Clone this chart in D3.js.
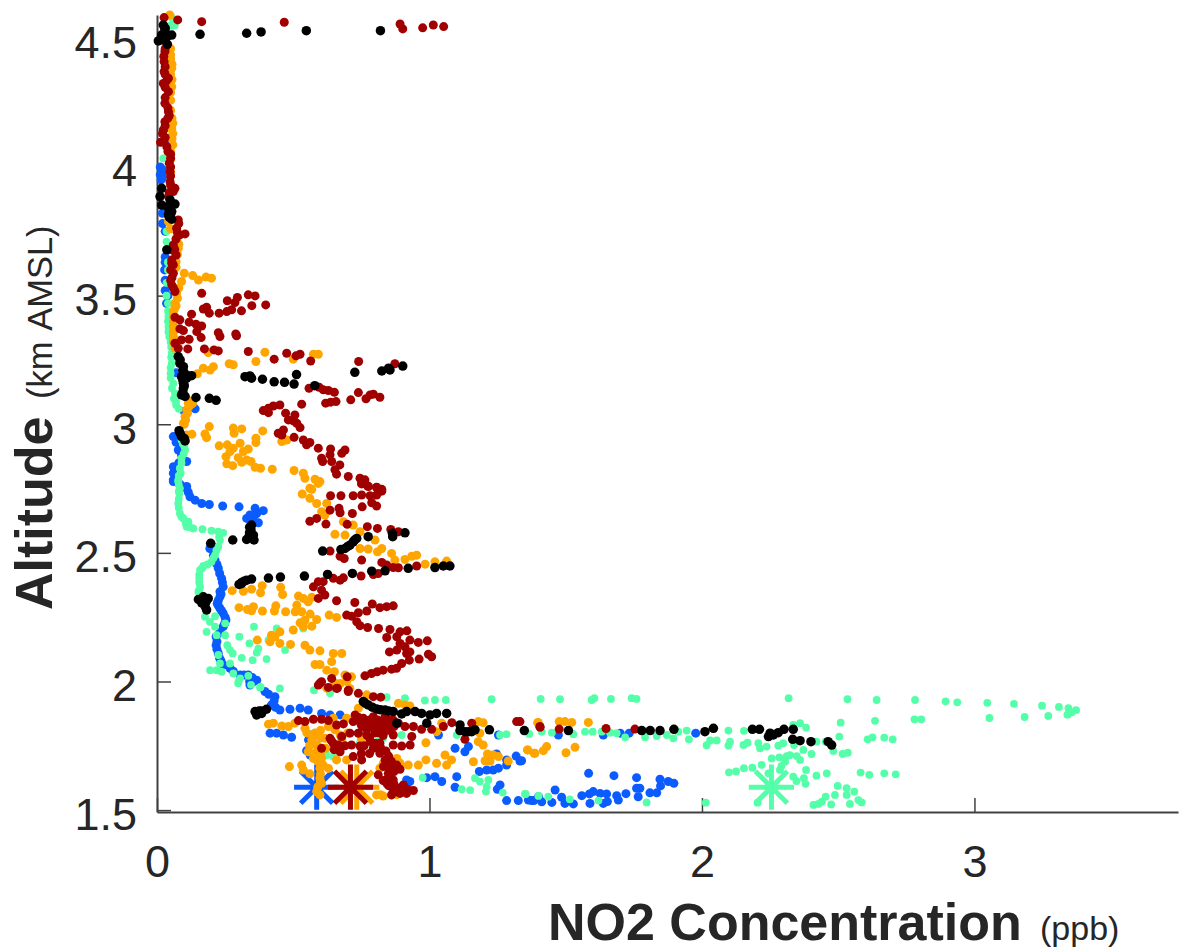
<!DOCTYPE html>
<html>
<head>
<meta charset="utf-8">
<script src="https://cdn.jsdelivr.net/npm/d3@7"></script>
<style>
  html, body { margin: 0; padding: 0; background: #fff; }
  svg { display: block; font-family: "Liberation Sans", Arial, sans-serif; }
</style>
</head>
<body>
<div id="chart"></div>
<script>
// Each profile is a list of [NO2 ppb, altitude km].
const blueProfile = [
  [.04,4.30],[.03,4.15],[.03,4.10],[.012,4.0],[.02,3.99],[.02,3.98],[.012,3.97],[.02,3.96],[.015,3.95],[.02,3.82],[.02,3.78],[.03,3.75],[.03,3.65],[.03,3.63],[.028,3.60],[.03,3.56],[.03,3.52],[.04,3.50],[.035,3.47],[.07,3.20],[.10,3.15],[.13,3.08],[.14,3.06],[.1,3.05],
  [.06,2.952],[.07,2.93],[.078,2.90],[.09,2.88],[.109,2.855],[.08,2.85],[.06,2.835],[.06,2.81],[.06,2.784],[.08,2.77],[.085,2.765],[.09,2.76],[.109,2.758],[.06,2.777],[.109,2.75],[.115,2.735],[.121,2.718],[.14,2.705],[.164,2.692],[.192,2.688],[.241,2.682],[.301,2.679],
  [.329,2.634],[.36,2.673],[.39,2.664],[.366,2.653],[.354,2.64],[.372,2.617],[.347,2.621],[.341,2.647],
  [.194,2.517],[.2,2.53],[.207,2.49],[.213,2.472],[.22,2.455],[.225,2.44],[.23,2.42],[.237,2.401],[.24,2.385],[.243,2.368],[.231,2.349],[.235,2.34],[.231,2.329],[.225,2.315],[.221,2.303],[.225,2.295],[.231,2.284],[.237,2.275],[.243,2.265],[.25,2.25],[.253,2.239],[.248,2.225],[.243,2.213],[.23,2.19],[.217,2.174],[.22,2.155],[.217,2.141],[.22,2.125],[.225,2.109],[.23,2.09],[.235,2.08],[.243,2.064],[.268,2.051],[.28,2.04],[.305,2.025],[.32,2.025],[.335,2.025],[.35,2.015],[.366,2.005],[.341,1.986],
  [.354,2.0],[.34,2.0],[.396,1.961],[.41,1.95],[.433,1.941],[.43,1.925],[.42,1.909],[.435,1.9],[.451,1.889],[.488,1.892],[.525,1.896],[.555,1.889],[.604,1.876],[.635,1.87],[.672,1.87],
  [.415,1.799],[.439,1.799],[.464,1.792],[.494,1.783],[.562,1.792],[.556,1.773],[.549,1.731],[.562,1.714],[.739,1.799],
  [.916,1.617],[.928,1.611],[.99,1.626],[1.02,1.63],[1.045,1.611],[1.10,1.63],[1.094,1.589],[1.094,1.74],[1.143,1.747],[1.13,1.727],[1.183,1.65],[1.21,1.656],[1.234,1.656],[1.253,1.663],[1.283,1.675],[1.246,1.718],[1.283,1.695],[1.318,1.71],[1.338,1.692],[1.259,1.598],[1.249,1.581],[1.283,1.537],[1.326,1.537],[1.375,1.537],[1.4,1.552],
  [1.363,1.539],[1.383,1.537],[1.412,1.532],[1.449,1.53],[1.461,1.578],[1.485,1.55],[1.497,1.526],[1.528,1.524],[1.559,1.556],[1.587,1.563],[1.601,1.572],[1.626,1.565],[1.65,1.563],[1.653,1.533],[1.638,1.526],[1.589,1.526],[1.687,1.556],[1.693,1.539],[1.721,1.564],[1.76,1.585],[1.766,1.552],[1.772,1.585],[1.809,1.567],[1.834,1.567],[1.848,1.594],[1.846,1.62],[1.876,1.611],[1.897,1.604],[1.76,1.626],[1.677,1.634],[1.584,1.643],
  [1.332,1.691],[1.473,1.792],[1.638,1.792],[1.7,1.799],[1.733,1.799],[1.977,1.799],[1.033,1.792],[1.253,1.792]
];
const greenProfile = [
  [.06,4.565],[.065,4.55],[.05,4.55],[.07,4.57],[.055,4.58],[.023,4.034],[.035,3.75],[.035,3.71],[.035,3.68],[.04,3.63],[.04,3.6],[.035,3.55],[.035,3.5],[.04,3.47],
  [.04,3.44],[.042,3.419],[.04,3.40],[.042,3.38],[.042,3.36],[.045,3.34],[.05,3.32],[.052,3.30],[.054,3.276],[.052,3.26],[.054,3.237],[.05,3.22],[.05,3.198],[.05,3.18],[.06,3.159],[.055,3.14],[.066,3.12],[.062,3.10],[.07,3.088],[.07,3.075],[.08,3.06],[.09,2.939],[.095,2.925],[.1,2.915],[.103,2.90],[.098,2.885],[.09,2.868],[.09,2.85],[.084,2.829],[.087,2.81],[.08,2.8],[.078,2.784],[.08,2.765],[.084,2.751],
  [.078,2.777],[.08,2.74],[.082,2.731],[.08,2.71],[.078,2.692],[.08,2.675],[.084,2.653],[.09,2.64],[.097,2.634],[.115,2.621],[.105,2.615],[.109,2.602],[.12,2.60],[.133,2.595],[.167,2.592],[.2,2.586],[.225,2.582],[.243,2.578],[.228,2.56],[.231,2.55],[.225,2.524],[.218,2.51],[.213,2.491],[.207,2.48],[.2,2.465],[.185,2.455],[.17,2.449],[.165,2.44],[.158,2.433],[.155,2.415],[.155,2.401],[.155,2.385],[.158,2.368],[.155,2.355],[.152,2.349],[.16,2.335],
  [.176,2.252],[.213,2.254],[.194,2.232],[.213,2.213],[.25,2.226],[.25,2.18],[.182,2.193],[.219,2.18],[.356,2.213],[.302,2.174],[.339,2.148],[.258,2.141],[.268,2.122],[.278,2.109],[.372,2.128],[.366,2.112],[.225,2.103],[.231,2.07],[.268,2.07],[.311,2.092],[.351,2.083],[.402,2.087],[.195,2.044],[.219,2.044],[.237,2.038],[.28,2.031],[.305,2.012],[.299,1.999],[.335,2.022],[.38,1.979],[.451,1.973],[.576,1.966],[.47,2.122],[.439,2.206],[.537,2.206],[.409,2.161],
  [.298,1.993],[.345,1.987],[.378,1.977],[.635,1.954],[.843,1.939],[.91,1.935],[.983,1.926],[1.02,1.928],[1.06,1.928],[1.228,1.931],
  [1.408,1.932],[1.479,1.931],[1.595,1.928],[1.605,1.935],[1.666,1.932],[1.742,1.935],[1.76,1.932],[2.318,1.935],[2.534,1.931],[2.641,1.928],[2.782,1.928],
  [2.894,1.923],[2.937,1.919],[3.047,1.917],[3.145,1.913],[3.248,1.906],[3.31,1.901],[3.345,1.896],[3.373,1.889],[3.357,1.88],[3.341,1.871],[2.805,1.853],[3.055,1.858],[3.184,1.862],[3.271,1.866],
  [1.366,1.796],[1.412,1.805],[1.449,1.801],[1.528,1.795],[1.571,1.805],[1.599,1.805],[1.632,1.805],[1.663,1.801],[1.687,1.799],[1.718,1.783],[1.791,1.783],[1.834,1.788],[1.871,1.792],[1.895,1.779],[1.913,1.805],[1.944,1.809],[1.952,1.775],[2.097,1.809],[2.154,1.808],
  [2.017,1.752],[2.03,1.771],[2.054,1.771],[2.097,1.751],[2.103,1.766],[2.152,1.753],[2.167,1.762],[2.207,1.76],[2.213,1.74],[2.237,1.747],[2.28,1.751],[2.298,1.76],[2.335,1.831],[2.36,1.838],[2.382,1.821],[2.338,1.753],[2.372,1.734],[2.402,1.718],[2.42,1.766],[2.454,1.766],[2.504,1.786],[2.509,1.84],[2.482,1.73],[2.516,1.718],[2.535,1.723],[2.608,1.775],[2.626,1.783],[2.635,1.847],[2.669,1.782],[2.7,1.775],[2.78,1.853],
  [2.256,1.701],[2.284,1.705],[2.311,1.71],[2.323,1.714],[2.305,1.688],[2.292,1.672],[2.36,1.695],[2.348,1.71],[2.219,1.676],[2.185,1.665],[2.154,1.663],[2.125,1.65],[2.099,1.647],[2.244,1.643],[2.286,1.656],[2.382,1.656],[2.335,1.63],[2.347,1.613],[2.374,1.624],[2.38,1.602],[2.42,1.634],[2.458,1.643],[2.582,1.646],[2.614,1.637],[2.669,1.643],[2.711,1.639],
  [2.498,1.594],[2.531,1.585],[2.559,1.572],[2.488,1.559],[2.531,1.559],[2.454,1.552],[2.44,1.533],[2.409,1.52],[2.427,1.524],[2.474,1.522],[2.543,1.524],[2.574,1.539],[2.586,1.53],
  [2.204,1.529],[2.014,1.529],[1.797,1.53],[1.62,1.537],[1.515,1.542],[1.436,1.552],[1.4,1.555],[1.35,1.563],
  [.975,1.626],[1.118,1.581],[1.149,1.578],[1.167,1.624],[1.185,1.611],[1.216,1.617],[1.21,1.591],[1.207,1.572],[1.269,1.568],[1.353,1.563],[1.259,1.792],[1.283,1.795],[.83,1.779],[.898,1.792],[.818,1.773],[.623,1.714],[.647,1.708],[.745,1.762],[1.10,1.792]
];
const orangeProfile = [
  [.047,4.591],[.05,4.46],[.05,4.436],[.05,4.42],[.055,4.40],[.054,4.384],[.05,4.36],[.055,4.34],[.054,4.312],[.05,4.29],[.05,4.26],[.05,4.22],[.055,4.19],[.058,4.17],[.054,4.15],[.058,4.13],[.055,4.11],[.058,4.086],[.05,4.06],[.05,4.03],[.05,3.98],[.05,3.93],[.04,3.85],[.042,3.788],[.05,3.76],[.07,3.72],[.08,3.70],[.078,3.684],[.075,3.66],[.07,3.632],
  [.066,3.626],[.07,3.61],[.1,3.587],[.131,3.578],[.152,3.561],[.18,3.572],[.2,3.568],[.09,3.555],[.08,3.53],[.072,3.509],[.075,3.49],[.066,3.47],[.07,3.46],[.065,3.45],[.06,3.438],[.06,3.42],[.06,3.40],[.06,3.38],[.06,3.36],[.06,3.341],[.06,3.32],[.066,3.295],
  [.188,3.279],[.396,3.28],[.5,3.253],[.574,3.272],[.592,3.272],[.363,3.244],[.265,3.235],[.28,3.231],[.207,3.224],[.195,3.211],[.17,3.218],[.148,3.196],
  [.12,3.09],[.13,3.08],[.115,3.082],[.118,3.07],[.109,3.056],[.112,3.043],[.103,3.03],[.105,3.017],[.097,3.004],[.1,3.0],[.109,2.958],[.128,2.961],
  [.192,2.991],[.28,2.985],[.311,2.982],[.283,2.965],[.388,2.974],[.176,2.962],[.182,2.948],[.363,2.946],[.363,2.929],[.476,2.939],[.458,2.933],
  [.228,2.916],[.258,2.92],[.305,2.926],[.28,2.907],[.335,2.904],[.317,2.894],[.268,2.894],[.253,2.874],[.298,2.87],[.329,2.861],[.311,2.852],[.256,2.846],[.278,2.839],[.345,2.855],[.36,2.833],[.38,2.829],[.423,2.825],[.503,2.82],[.537,2.81],[.543,2.79],[.58,2.786],[.598,2.777],[.561,2.751],
  [.592,2.77],[.568,2.747],[.533,2.729],[.561,2.712],[.586,2.692],[.623,2.692],[.604,2.66],[.616,2.647],[.684,2.621],[.72,2.608],[.745,2.582],[.653,2.572],[.69,2.569],[.8,2.55],[.745,2.517],[.775,2.515],[.809,2.504],[.825,2.517],[.861,2.498],[.873,2.472],[.91,2.474],[.935,2.487],[.953,2.491],[.984,2.456],[1.02,2.465],[1.063,2.468],
  [.276,2.353],[.317,2.351],[.347,2.359],[.386,2.372],[.38,2.345],[.454,2.366],[.461,2.338],[.519,2.332],[.537,2.323],[.568,2.327],[.555,2.31],[.513,2.297],
  [.301,2.287],[.332,2.28],[.354,2.291],[.347,2.275],[.387,2.274],[.436,2.294],[.431,2.274],[.472,2.271],[.507,2.271],[.531,2.271],[.562,2.262],[.632,2.258],[.659,2.249],
  [.586,2.241],[.543,2.239],[.525,2.228],[.568,2.215],[.537,2.213],[.5,2.2],[.451,2.193],[.42,2.18],[.433,2.174],[.368,2.161],[.415,2.154],[.451,2.148],[.49,2.144],[.543,2.141],[.561,2.122],[.598,2.119],[.678,2.109],[.647,2.109],[.641,2.077],[.58,2.066],[.598,2.066],[.623,2.044],[.651,2.038],[.69,2.025],[.714,2.018],[.672,1.992],[.654,1.979],[.708,1.973],
  [.653,1.993],[.696,2.0],[.623,1.974],[.77,1.948],[.886,1.915],[.91,1.909],[.928,1.905],[.739,1.896],
  [.409,1.834],[.427,1.838],[.458,1.827],[.482,1.825],[.506,1.838],[.543,1.818],[.574,1.786],[.568,1.773],[.586,1.753],[.555,1.727],[.58,1.721],[.604,1.701],[.574,1.701],[.61,1.675],[.598,1.662],[.486,1.669],[.531,1.675],[.537,1.656],[.561,1.641],[.598,1.624],[.629,1.662],[.604,1.604],[.586,1.572],[.598,1.559],[.629,1.825],[.653,1.812],[.672,1.792],[.617,1.779],[.696,1.695],[.659,1.695],[.678,1.773],[.647,1.857],[.696,1.857],[.739,1.85],[.818,1.663],[.806,1.559],[.83,1.555],[.86,1.559],[.88,1.701],[.892,1.682],[.922,1.675],[.959,1.675],[.987,1.695],[1.026,1.682],[1.057,1.714],[1.081,1.695],[1.063,1.675],[1.161,1.688],[1.204,1.692],[1.222,1.691],[1.213,1.718],[1.234,1.714],[1.253,1.708],[1.289,1.691],[1.36,1.734],[1.387,1.721],[.987,1.762],[1.179,1.766],[1.197,1.753],[1.179,1.844],[1.197,1.84],[1.185,1.799],[1.397,1.84],[1.045,1.838],[1.026,1.805],
  [.6,1.81],[.58,1.80],[.6,1.78],[.62,1.74],[.6,1.72],[.59,1.69],[.6,1.64],[.6,1.61],[.59,1.59],[.83,1.68],[.7,1.8],[.75,1.78],[.55,1.8],[.56,1.75],[.6,1.68],[.82,1.56],[.88,1.56],[.91,1.57],
  [1.399,1.841],[1.476,1.844],[1.497,1.844],[1.522,1.841],[1.583,1.841],[1.36,1.734],[1.384,1.721],[1.418,1.731],[1.43,1.747],[1.501,1.723],[1.534,1.744]
];
const redProfile = [
  [.026,4.581],[.076,4.572],[.164,4.565],[.467,4.563],[.892,4.556],[.902,4.537],[.975,4.541],[1.014,4.552],[1.052,4.546],
  [.03,4.46],[.029,4.449],[.025,4.43],[.026,4.41],[.03,4.39],[.026,4.371],[.03,4.36],[.042,4.345],[.035,4.335],[.023,4.325],[.03,4.31],[.042,4.293],[.03,4.27],[.029,4.248],[.04,4.23],[.042,4.215],[.045,4.20],[.04,4.19],[.029,4.176],[.03,4.16],[.023,4.144],[.02,4.13],[.03,4.115],[.025,4.10],[.013,4.096],[.036,4.079],[.04,4.06],[.05,4.05],[.05,4.034],[.045,4.015],[.05,4.0],[.048,3.982],[.05,3.965],[.048,3.943],[.05,3.93],[.066,3.917],[.06,3.905],[.045,3.90],[.042,3.885],[.078,3.794],[.08,3.78],[.072,3.762],[.075,3.745],[.103,3.74],[.084,3.736],[.07,3.72],[.06,3.697],[.065,3.68],[.06,3.675],[.07,3.658],[.054,3.639],
  [.054,3.626],[.06,3.62],[.05,3.60],[.06,3.587],[.055,3.57],[.05,3.56],[.054,3.542],[.06,3.53],[.066,3.516],
  [.164,3.509],[.36,3.499],[.335,3.503],[.295,3.493],[.258,3.48],[.286,3.473],[.348,3.461],[.399,3.464],[.182,3.455],[.17,3.448],[.31,3.441],[.274,3.445],[.256,3.438],[.228,3.432],[.192,3.432],[.127,3.428],
  [.066,3.416],[.084,3.406],[.118,3.397],[.143,3.389],[.164,3.382],[.146,3.36],[.084,3.371],[.097,3.364],[.225,3.356],[.231,3.341],[.289,3.351],[.292,3.344],[.162,3.337],[.118,3.33],[.09,3.328],[.066,3.315],[.078,3.295],[.113,3.293],[.174,3.293],[.209,3.289],[.225,3.285],[.335,3.283],
  [.476,3.276],[.525,3.272],[.51,3.266],[.43,3.253],[.564,3.246],[.74,3.244],[.873,3.235],
  [.558,3.14],[.595,3.144],[.61,3.134],[.629,3.131],[.651,3.124],[.739,3.123],[.782,3.114],[.794,3.117],[.818,3.105],[.711,3.095],[.767,3.099],[.619,3.082],[.637,3.086],[.657,3.088],
  [.531,3.078],[.451,3.075],[.427,3.071],[.409,3.062],[.39,3.053],[.409,3.045],[.472,3.043],[.506,3.036],[.482,3.017],[.5,3.013],[.513,3.004],[.525,2.987],[.464,2.978],[.445,2.965],[.458,2.958],[.503,2.949],[.537,2.939],[.561,2.929],[.549,2.92],[.592,2.907],[.637,2.904],[.69,2.9],[.678,2.887],[.635,2.881],[.604,2.868],[.608,2.855],[.641,2.855],[.671,2.842],[.653,2.823],[.659,2.806],[.702,2.797],[.745,2.79],[.763,2.784],[.751,2.768],[.776,2.758],[.806,2.755],[.825,2.747],
  [.751,2.77],[.773,2.76],[.806,2.754],[.825,2.74],[.806,2.725],[.782,2.722],[.751,2.725],[.72,2.722],[.675,2.722],[.637,2.722],[.788,2.695],[.806,2.682],[.753,2.679],[.668,2.673],[.635,2.666],[.672,2.656],[.717,2.653],[.586,2.634],[.561,2.623],[.62,2.612],[.698,2.611],[.772,2.602],[.809,2.595],[.858,2.591],[.886,2.582],[.635,2.507],[.672,2.487],[.687,2.478],[.751,2.472],[.825,2.463],[.843,2.453],[.886,2.442],[.953,2.449],[.794,2.416],[.812,2.42],[.749,2.41],[.672,2.394],[.647,2.401],[.684,2.403],[.867,2.443],
  [.592,2.388],[.61,2.388],[.574,2.368],[.604,2.355],[.616,2.336],[.592,2.323],[.659,2.314],[.726,2.307],[.867,2.294],[.843,2.291],[.818,2.287],[.79,2.301],[.77,2.274],[.739,2.267],[.696,2.258],[.714,2.254],[.733,2.232],[.745,2.217],[.773,2.21],[.813,2.206],[.855,2.202],[.892,2.193],[.917,2.197],[.843,2.171],[.88,2.174],[.892,2.148],[.928,2.161],[.91,2.135],[.928,2.115],[.959,2.152],[.992,2.158],[.853,2.115],[.88,2.122],[.916,2.109],[1.008,2.096],[.996,2.106],[.962,2.087],[.926,2.083],[.898,2.07],[.879,2.051],[.861,2.048],[.83,2.044],[.808,2.038],[.787,2.031],[.763,2.022],[.698,2.018],[.641,2.012],[.604,1.999],[.592,1.986],[.659,1.973],[.702,1.966],
  [.598,1.993],[.629,1.977],[.662,1.974],[.702,1.961],[.739,1.954],[.794,1.941],[.821,1.939],
  [.727,1.87],[.757,1.857],[.794,1.863],[.837,1.863],[.867,1.85],[.769,1.838],[.818,1.844],
  [.74,1.86],[.76,1.84],[.78,1.85],[.81,1.85],[.83,1.84],[.85,1.85],[.73,1.85],[.75,1.83],[.77,1.815],[.79,1.83],[.81,1.83],[.83,1.81],[.85,1.81],[.87,1.825],[.80,1.80],[.83,1.79],[.78,1.78],[.8,1.76],[.82,1.745],[.84,1.73],[.85,1.71],[.86,1.69],[.88,1.675],[.85,1.67],[.87,1.65],[.85,1.63],[.83,1.615],[.85,1.595],[.87,1.60],[.90,1.585],[.92,1.58],[.885,1.57],[.66,1.74],[.64,1.77],[.65,1.735],[.69,1.75],[.76,1.75],[.78,1.72],[.75,1.72],
  [.519,1.848],[.543,1.844],[.574,1.853],[.604,1.853],[.629,1.848],[.659,1.831],[.684,1.835],[.72,1.844],[.757,1.825],[.794,1.818],[.843,1.825],[.886,1.838],[.91,1.825],[.941,1.825],[.971,1.814],[1.008,1.814],[1.051,1.825],[1.082,1.84],[1.155,1.838],[1.13,1.775],[1.32,1.844],[1.405,1.825],
  [.708,1.799],[.678,1.786],[.739,1.799],[.77,1.792],[.812,1.801],[.867,1.792],[.935,1.786],[.782,1.766],[.818,1.76],[.867,1.753],[.929,1.753],[.898,1.749],[.635,1.779],[.647,1.76],[.666,1.753],[.604,1.74],[.672,1.727],[.714,1.753],[.745,1.749],[.794,1.74],[.818,1.721],[.72,1.708],[.751,1.695],[.837,1.695],[.831,1.669],[.867,1.675],[.892,1.659],[.849,1.643],[.812,1.637],[.867,1.617],[.843,1.604],[.904,1.598],[.886,1.585],[.941,1.576],[.916,1.565],[.867,1.572],[.892,1.565],[.861,1.559],
  [1.332,1.844],[1.406,1.822],[1.476,1.815],[1.648,1.817],[1.754,1.815]
];
const blackProfile = [
  [.023,4.552],[.03,4.54],[.029,4.533],[.03,4.52],[.017,4.513],[.036,4.507],[.054,4.513],[.03,4.50],[.005,4.49],[.023,4.494],[.038,4.477],[.158,4.516],[.329,4.52],[.382,4.525],[.548,4.53],[.82,4.53],
  [.017,3.917],[.011,3.885],[.017,3.852],[.048,3.872],[.066,3.856],[.045,3.85],[.05,3.85],[.042,3.84],[.054,3.827],[.042,3.815],[.05,3.815],[.045,3.805],[.054,3.797],[.036,3.678],
  [.078,3.263],[.085,3.25],[.084,3.237],[.097,3.224],[.095,3.21],[.1,3.2],[.127,3.189],[.11,3.19],[.09,3.185],[.109,3.179],[.095,3.17],[.097,3.159],[.1,3.15],[.097,3.14],[.095,3.125],[.09,3.114],[.103,3.108],[.143,3.104],[.192,3.101],[.217,3.093],[.081,2.975],[.085,2.965],[.09,2.952],[.1,2.945],[.103,2.935],
  [.323,3.185],[.341,3.188],[.347,3.179],[.387,3.175],[.43,3.165],[.468,3.163],[.503,3.156],[.512,3.193],[.579,3.15],[.726,3.202],[.825,3.207],[.85,3.218],[.855,3.211],[.902,3.226],
  [.197,2.537],[.278,2.55],[.329,2.552],[.356,2.55],[.347,2.608],[.34,2.6],[.345,2.589],[.34,2.58],[.339,2.569],[.354,2.569],[.35,2.56],
  [.864,2.576],[.865,2.563],[.91,2.578],[.775,2.563],[.733,2.556],[.725,2.55],[.72,2.543],[.708,2.53],[.7,2.525],[.69,2.517],[.675,2.513],[.608,2.507],[1.02,2.443],[1.051,2.449],[1.075,2.449],[.922,2.44],[.837,2.43],[.788,2.429],[.717,2.42],[.626,2.416],[.541,2.41],[.453,2.406],[.409,2.402],[.347,2.398],[.329,2.394],[.32,2.39],[.311,2.385],[.31,2.38],[.301,2.377],
  [.152,2.319],[.165,2.32],[.17,2.329],[.18,2.31],[.188,2.323],[.164,2.306],[.175,2.3],[.176,2.293],[.182,2.278],
  [.366,1.87],[.37,1.875],[.384,1.876],[.385,1.885],[.375,1.885],[.402,1.892],[.36,1.883],
  [.757,1.922],[.765,1.915],[.775,1.909],[.79,1.9],[.806,1.893],[.82,1.89],[.837,1.889],[.85,1.885],[.867,1.883],[.898,1.874],[.916,1.883],[.947,1.883],[.971,1.876],[1.002,1.87],[1.026,1.876],[1.063,1.876],[.99,1.838],[.88,1.838],[1.112,1.831],[1.112,1.809],[1.13,1.805],[1.143,1.805],[1.155,1.805],[1.167,1.812],[1.22,1.812],[1.348,1.809],
  [1.51,1.809],[1.779,1.809],[1.81,1.809],[1.846,1.809],[1.897,1.814],[2.011,1.805],[2.042,1.818],[2.185,1.814],[2.211,1.814],[2.25,1.799],[2.244,1.786],[2.262,1.792],[2.28,1.801],[2.301,1.814],[2.335,1.814],[2.333,1.775],[2.36,1.77],[2.4,1.766],[2.463,1.766],[2.476,1.753]
];

// Draw order and per-profile stuff: the asterisk is the ground value of the flight.
const profiles = [blueProfile, greenProfile, orangeProfile, redProfile, blackProfile];
const profileColors = ["#0a5cff", "#55ffa9", "#ffa500", "#a00000", "#000000"];
const dotDiameters = [9, 7.8, 9, 9, 9.5];
const starNo2 = [0.586, 2.255, 0.733, 0.71, null];
const starAlt = 1.589;

const xTicks = [0, 1, 2, 3];
const yTicks = [1.5, 2, 2.5, 3, 3.5, 4, 4.5];
const yTickLabels = ["1.5", "2", "2.5", "3", "3.5", "4", "4.5"];

const width = 1179;
const height = 952;
const textColor = "#262626";

const x = d3.scaleLinear().domain([0, 3.747]).range([157, 1178]);
const y = d3.scaleLinear().domain([1.4926, 4.591]).range([812, 15]);

const svg = d3.select("#chart").append("svg")
    .attr("width", width)
    .attr("height", height)
    .attr("viewBox", [0, 0, width, height]);

// Eight armed asterisk, all arms the same length.
const asterisk = {
    draw(context, size) {
        const r = Math.sqrt(size);
        for (let i = 0; i < 4; i++) {
            const a = i * Math.PI / 4;
            context.moveTo(-r * Math.cos(a), -r * Math.sin(a));
            context.lineTo(r * Math.cos(a), r * Math.sin(a));
        }
    }
};
const starPath = d3.symbol().type(asterisk).size(22.6 * 22.6);

// Axes first so the dots sit over the axis lines.
const xAxis = svg.append("g")
    .attr("transform", `translate(0,${y.range()[0]})`)
    .call(d3.axisBottom(x).tickValues(xTicks).tickFormat(d3.format("d"))
        .tickSizeInner(-14).tickSizeOuter(0).tickPadding(33));

const yAxis = svg.append("g")
    .attr("transform", `translate(${x.range()[0]},0)`)
    .call(d3.axisLeft(y).tickValues(yTicks).tickFormat((d, i) => yTickLabels[i])
        .tickSizeInner(-14).tickSizeOuter(0).tickPadding(20));

[xAxis, yAxis].forEach(axis => {
    axis.select(".domain").attr("stroke", "#404040").attr("stroke-width", 2);
    axis.selectAll(".tick line").attr("stroke", "#404040").attr("stroke-width", 1.5);
    axis.selectAll(".tick text")
        .attr("fill", textColor)
        .style("font-size", "45px");
});
yAxis.selectAll(".tick text").attr("dy", "0.42em");

profiles.forEach((points, i) => {
    const group = svg.append("g").attr("fill", profileColors[i]);

    if (starNo2[i] !== null) {
        group.append("path")
            .attr("d", starPath())
            .attr("transform", `translate(${x(starNo2[i])},${y(starAlt)})`)
            .attr("fill", "none")
            .attr("stroke", profileColors[i])
            .attr("stroke-width", 5);
    }

    group.selectAll("circle")
        .data(points)
        .enter()
        .append("circle")
        .attr("cx", d => x(d[0]))
        .attr("cy", d => y(d[1]))
        .attr("r", dotDiameters[i] / 2);
});

// Axis titles, big bold name followed by the small unit.
const xTitle = svg.append("text")
    .attr("x", 548)
    .attr("y", 940)
    .attr("fill", textColor);
xTitle.append("tspan").style("font-size", "52px").style("font-weight", "bold").text("NO2 Concentration");
xTitle.append("tspan").attr("x", 1040).style("font-size", "34px").text("(ppb)");

const yTitle = svg.append("text")
    .attr("transform", "translate(52,610) rotate(-90)")
    .attr("fill", textColor);
yTitle.append("tspan").style("font-size", "52px").style("font-weight", "bold").text("Altitude");
yTitle.append("tspan").attr("x", 211).style("font-size", "34.5px").style("word-spacing", "3px").text("(km AMSL)");
</script>
</body>
</html>
